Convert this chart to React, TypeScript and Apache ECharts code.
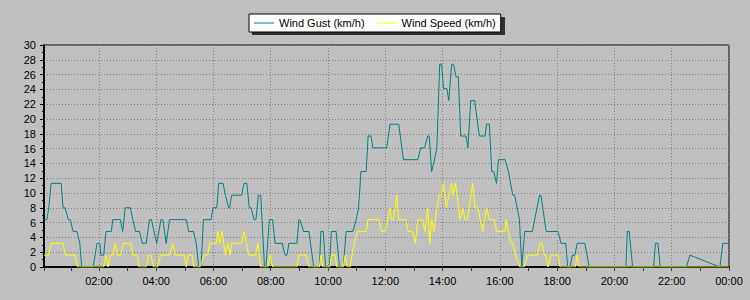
import React, { useEffect, useRef } from 'react';
import * as echarts from 'echarts';

// Wind gust (km/h): [minutes since midnight, value]
const gustPoints: [number, number][] = [
  [5, 6.4], [11, 6.4], [15, 8.0], [20, 11.3], [41, 11.3], [45, 8.0], [49, 8.0], [56, 6.4], [60, 6.4],
  [66, 4.8], [74, 4.8], [80, 3.2], [84, 0], [108, 0], [112, 1.6], [116, 3.2], [122, 3.2], [124, 1.6],
  [130, 1.6], [135, 4.8], [146, 4.8], [149, 6.4], [165, 6.4], [170, 4.8], [175, 8.0], [186, 8.0],
  [191, 6.4], [197, 4.8], [205, 4.8], [211, 3.2], [219, 3.2], [226, 6.4], [230, 6.4], [241, 3.2],
  [250, 6.4], [254, 6.4], [261, 3.2], [268, 6.4], [303, 6.4], [308, 4.8], [318, 4.8], [324, 3.2],
  [329, 0], [334, 0], [339, 6.4], [355, 6.4], [359, 8.0], [367, 8.0], [371, 11.3], [380, 11.3],
  [385, 9.7], [392, 8.0], [394, 8.0], [398, 9.7], [419, 9.7], [424, 11.3], [430, 11.3], [435, 8.0],
  [439, 8.0], [445, 6.4], [449, 6.4], [454, 9.7], [459, 9.7], [467, 0], [470, 0], [477, 6.4],
  [484, 6.4], [489, 3.2], [504, 3.2], [510, 1.6], [514, 1.6], [518, 3.2], [535, 3.2], [539, 6.4],
  [541, 6.4], [549, 4.8], [560, 4.8], [570, 0], [582, 0], [585, 4.8], [590, 4.8], [595, 0], [603, 0],
  [607, 4.8], [617, 4.8], [624, 0], [632, 0], [638, 4.8], [652, 4.8], [659, 6.4], [664, 8.0],
  [669, 12.9], [680, 12.9], [684, 17.7], [690, 17.7], [694, 16.1], [723, 16.1], [730, 19.3],
  [748, 19.3], [758, 14.5], [788, 14.5], [794, 16.1], [802, 16.1], [809, 17.7], [812, 17.7],
  [817, 12.9], [823, 14.5], [828, 16.1], [834, 27.4], [838, 27.4], [842, 24.1], [849, 24.1],
  [853, 22.5], [859, 27.4], [863, 27.4], [868, 25.7], [873, 25.7], [878, 17.7], [889, 17.7],
  [893, 16.1], [899, 22.5], [907, 22.5], [917, 17.7], [929, 17.7], [932, 19.3], [938, 19.3],
  [943, 12.9], [947, 12.9], [953, 11.3], [957, 14.5], [971, 14.5], [978, 12.9], [987, 9.7],
  [991, 9.7], [1001, 6.4], [1006, 0], [1012, 4.8], [1028, 4.8], [1043, 9.7], [1046, 9.7],
  [1057, 4.8], [1082, 4.8], [1088, 3.2], [1098, 3.2], [1102, 0], [1107, 0], [1112, 1.6],
  [1117, 1.6], [1122, 3.2], [1138, 3.2], [1147, 0], [1224, 0], [1227, 4.8], [1231, 4.8],
  [1238, 0], [1282, 0], [1286, 3.2], [1291, 3.2], [1296, 0], [1351, 0], [1358, 1.6], [1421, 0],
  [1427, 3.2], [1440, 3.2],
];

// Wind speed (km/h): [minutes since midnight, value]
const speedPoints: [number, number][] = [
  [5, 1.6], [15, 1.6], [20, 3.2], [45, 3.2], [50, 1.6], [70, 1.6], [75, 0], [130, 0], [135, 1.6],
  [139, 0], [144, 1.6], [149, 1.6], [154, 3.2], [159, 1.6], [166, 1.6], [171, 3.2], [187, 3.2],
  [191, 1.6], [201, 1.6], [204, 0], [219, 0], [224, 1.6], [229, 1.6], [234, 0], [243, 0],
  [249, 1.6], [268, 1.6], [275, 3.2], [280, 1.6], [299, 1.6], [303, 0], [307, 1.6], [315, 1.6],
  [319, 0], [331, 0], [341, 1.6], [348, 1.6], [352, 3.2], [366, 3.2], [369, 4.8], [373, 3.2],
  [378, 4.8], [385, 1.6], [390, 3.2], [395, 1.6], [398, 3.2], [419, 3.2], [424, 4.8], [429, 3.2],
  [434, 1.6], [448, 1.6], [453, 3.2], [459, 0], [474, 0], [479, 1.6], [484, 0], [535, 0],
  [539, 1.6], [554, 1.6], [560, 0], [582, 0], [585, 1.6], [589, 0], [604, 0], [607, 1.6],
  [615, 1.6], [618, 0], [632, 0], [636, 1.6], [640, 0], [646, 0], [655, 3.2], [662, 4.8],
  [680, 4.8], [684, 6.4], [707, 6.4], [712, 4.8], [720, 4.8], [725, 6.4], [730, 8.0], [733, 6.4],
  [737, 6.4], [744, 9.7], [748, 6.4], [763, 6.4], [768, 4.8], [777, 4.8], [783, 3.2], [788, 6.4],
  [798, 6.4], [803, 4.8], [809, 8.0], [813, 3.2], [817, 6.4], [822, 4.8], [828, 8.0], [833, 9.7],
  [837, 9.7], [842, 11.3], [848, 8.0], [853, 9.7], [859, 11.3], [862, 9.7], [867, 11.3],
  [877, 6.4], [882, 8.0], [887, 6.4], [892, 6.4], [903, 11.3], [908, 8.0], [914, 8.0], [924, 4.8],
  [932, 8.0], [938, 6.4], [948, 6.4], [953, 4.8], [971, 4.8], [973, 6.4], [978, 4.8], [983, 3.2],
  [987, 3.2], [993, 1.6], [1002, 0], [1011, 0], [1018, 1.6], [1039, 1.6], [1044, 3.2], [1048, 3.2],
  [1053, 1.6], [1056, 1.6], [1061, 0], [1067, 1.6], [1082, 1.6], [1086, 0], [1118, 0], [1122, 1.6],
  [1126, 0], [1440, 0],
];

const seriesNames = ['Wind Gust (km/h)', 'Wind Speed (km/h)'];
const seriesColors = ['#008080', '#FFFF00'];
const axisStartMinute = 5;
const axisEndMinute = 1440;
const yMin = 0;
const yMax = 30;
const yStep = 2;

const BASE = new Date(2024, 0, 1, 0, 0, 0).getTime();
const toTime = (m: number) => BASE + m * 60000;
const FONT = '"Liberation Sans", Arial, sans-serif';
// thin horizontal line icon, with zero-area anchors so the box keeps its full height
const LINE_ICON = 'path://M0,0L0,0M0,6.5L20,6.5L20,7.5L0,7.5ZM20,14L20,14';

export default function App() {
  const ref = useRef<HTMLDivElement>(null);
  useEffect(() => {
    const chart = echarts.init(ref.current!, null, { renderer: 'svg' });
    chart.setOption({
      animation: false,
      backgroundColor: '#C0C0C0',
      textStyle: { fontFamily: FONT },
      grid: {
        left: 44,
        top: 45,
        width: 685,
        height: 222,
        show: true,
        borderColor: '#000',
        borderWidth: 1,
        backgroundColor: 'transparent',
      },
      legend: {
        data: seriesNames.map((name) => ({ name, icon: LINE_ICON })),
        left: 249,
        top: 14,
        padding: [2, 5, 2, 5],
        itemWidth: 20,
        itemHeight: 14,
        itemGap: 12,
        backgroundColor: '#FFFFFF',
        borderColor: '#000',
        borderWidth: 1,
        textStyle: { fontSize: 11, color: '#000', fontFamily: FONT },
        z: 10,
      },
      graphic: [
        {
          type: 'rect',
          left: 252,
          top: 17,
          shape: { width: 253, height: 18 },
          style: { fill: '#303030' },
          z: 1,
          silent: true,
        },
      ],
      xAxis: {
        type: 'time',
        min: toTime(axisStartMinute),
        max: toTime(axisEndMinute),
        minInterval: 2.5 * 3600 * 1000,
        maxInterval: 2.5 * 3600 * 1000,
        axisLine: { show: true, lineStyle: { color: '#000', width: 2 } },
        axisTick: { show: true, length: 4, lineStyle: { color: '#404040' } },
        minorTick: { show: true, splitNumber: 2, length: 4, lineStyle: { color: '#404040' } },
        splitLine: { show: true, lineStyle: { color: '#808080', type: [1, 2], width: 1 } },
        axisLabel: {
          formatter: '{HH}:{mm}',
          fontSize: 11,
          color: '#000',
          fontFamily: FONT,
          margin: 8,
          showMinLabel: false,
          showMaxLabel: true,
          hideOverlap: false,
        },
      },
      yAxis: {
        type: 'value',
        min: yMin,
        max: yMax,
        interval: yStep,
        axisLine: { show: true, lineStyle: { color: '#000', width: 2 } },
        axisTick: { show: true, length: 4, lineStyle: { color: '#000' } },
        minorTick: { show: true, splitNumber: 2, length: 2, lineStyle: { color: '#000' } },
        splitLine: { show: true, lineStyle: { color: '#808080', type: [1, 2], width: 1 } },
        axisLabel: { fontSize: 11, color: '#000', fontFamily: FONT, margin: 8 },
      },
      series: [
        {
          name: seriesNames[0],
          type: 'line',
          symbol: 'none',
          data: gustPoints.map(([m, v]) => [toTime(m), v]),
          lineStyle: { color: seriesColors[0], width: 1 },
          itemStyle: { color: seriesColors[0] },
          z: 3,
        },
        {
          name: seriesNames[1],
          type: 'line',
          symbol: 'none',
          data: speedPoints.map(([m, v]) => [toTime(m), v]),
          lineStyle: { color: seriesColors[1], width: 1 },
          itemStyle: { color: seriesColors[1] },
          z: 4,
        },
      ],
    });
    return () => chart.dispose();
  }, []);
  return (
    <div
      ref={ref}
      style={{ position: 'fixed', left: 0, top: 0, width: 750, height: 300 }}
    />
  );
}
